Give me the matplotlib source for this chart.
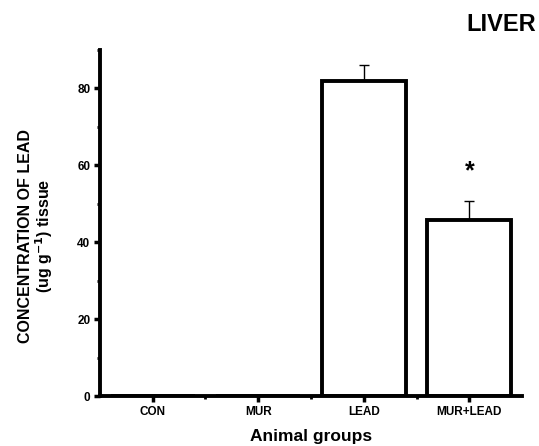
import matplotlib
matplotlib.use("Agg")
import matplotlib.pyplot as plt
from matplotlib.ticker import MultipleLocator, FixedLocator

plt.rcParams['font.family'] = ['Liberation Sans', 'DejaVu Sans']

categories = ["CON", "MUR", "LEAD", "MUR+LEAD"]
values = [0, 0, 82, 45.7]
errors = [0, 0, 4, 5]
sig_marks = ["", "", "", "*"]
sig_pos = [0, 0, 0, 58.4]

fig = plt.figure(figsize=(5.39, 4.46), dpi=100)
ax = fig.add_axes([0.1855, 0.112, 0.783, 0.776])

x = list(range(len(categories)))
ax.bar(x, values, width=0.8, facecolor='white', edgecolor='black', linewidth=2.8, zorder=2)
for xi, v, e in zip(x, values, errors):
    if e > 0:
        ax.errorbar([xi], [v], yerr=[[0], [e]], fmt='none', ecolor='black', elinewidth=1, capsize=3.5, capthick=1, zorder=1)
for xi, m, p in zip(x, sig_marks, sig_pos):
    if m:
        ax.text(xi, p, m, ha='center', va='center', fontsize=18, fontweight='bold')

ax.set_xlim(-0.5, 3.5)
ax.set_ylim(0, 90)
ax.set_xticks(x)
ax.set_xticklabels(categories, fontsize=8.5, fontweight='bold')
ax.xaxis.set_minor_locator(FixedLocator([0.5, 1.5, 2.5]))
ax.yaxis.set_major_locator(MultipleLocator(20))
ax.yaxis.set_minor_locator(MultipleLocator(10))
for lbl in ax.get_yticklabels():
    lbl.set_fontsize(8.5)
    lbl.set_fontweight('bold')
ax.tick_params(axis='both', which='major', direction='out', length=4, width=2.5, pad=3)
ax.tick_params(axis='both', which='minor', direction='out', length=2, width=2)

for s in ['top', 'right']:
    ax.spines[s].set_visible(False)
for s in ['left', 'bottom']:
    ax.spines[s].set_linewidth(2.8)

ax.set_xlabel("Animal groups", fontsize=12.5, fontweight='bold', labelpad=8)
ax.set_ylabel("CONCENTRATION OF LEAD\n(ug g$^{\\mathbf{-1}}$) tissue", fontsize=11.5, fontweight='bold', linespacing=1.0)
ax.yaxis.set_label_coords(-0.107, 0.462)

fig.text(0.9295, 0.945, "LIVER", fontsize=17, fontweight='bold', ha='center', va='center')

fig.savefig("out.png", dpi=100)
